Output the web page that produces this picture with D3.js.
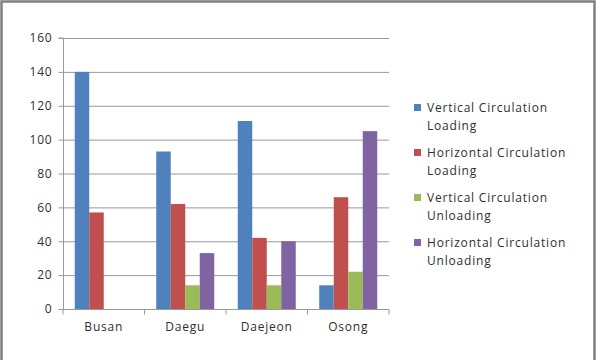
<!DOCTYPE html>
<html><head><meta charset="utf-8">
<script src="https://cdn.jsdelivr.net/npm/d3@7"></script>
<style>body{margin:0;background:#fff;} svg{display:block;}</style>
</head><body>
<svg id="c" width="607" height="360"></svg>
<script>
const categories = ["Busan", "Daegu", "Daejeon", "Osong"];
const seriesNames = [
  ["Vertical Circulation", "Loading"],
  ["Horizontal Circulation", "Loading"],
  ["Vertical Circulation", "Unloading"],
  ["Horizontal Circulation", "Unloading"]
];
const vertLoading = [140, 93, 111, 14];
const horizLoading = [57, 62, 42, 66];
const vertUnloading = [0, 14, 14, 22];
const horizUnloading = [0, 33, 40, 105];
const yTicks = [0, 20, 40, 60, 80, 100, 120, 140, 160];
const colors = ["#4F81BD", "#C0504D", "#9BBB59", "#8064A2"];

const series = [vertLoading, horizLoading, vertUnloading, horizUnloading];
const svg = d3.select("#c");
const font = "'Open Sans', 'Liberation Sans', sans-serif";
const fs = 12, ls = 0.8, tc = "#2f2f2f";

// chart border
svg.append("path").attr("d", "M1.5,360 L1.5,1.5 L594.5,1.5 L594.5,360")
  .attr("fill", "none").attr("stroke", "#808080").attr("stroke-width", 2.5);

const x0 = 63, x1 = 389, yTop = 38, yBot = 309;
const x = d3.scaleBand().domain(categories).range([x0, x1]).paddingInner(0).paddingOuter(0);
const xs = d3.scaleBand().domain(d3.range(4)).range([0, x.bandwidth()]).paddingOuter(0.81).paddingInner(0);
const y = d3.scaleLinear().domain([0, 160]).range([yBot, yTop]);

// gridlines
svg.append("g").selectAll("line").data(yTicks.filter(d => d > 0)).join("line")
  .attr("x1", x0).attr("x2", x1).attr("y1", d => y(d) + 0.5).attr("y2", d => y(d) + 0.5)
  .attr("stroke", "#999").attr("stroke-width", 1);

// y axis
const ya = svg.append("g").attr("transform", `translate(${x0 + 0.5},0)`)
  .call(d3.axisLeft(y).tickValues(yTicks).tickSize(5).tickPadding(6));
ya.select(".domain").attr("stroke", "#999").attr("d", `M-5,${yTop} H0 V${yBot}`);
ya.selectAll(".tick line").attr("stroke", "#999");
ya.selectAll("text").attr("font-family", font).attr("font-size", fs).attr("letter-spacing", ls).attr("fill", tc);

// bars
categories.forEach((c, ci) => {
  series.forEach((s, si) => {
    const v = s[ci];
    if (v <= 0) return;
    svg.append("rect")
      .attr("x", x(c) + xs(si)).attr("width", xs.bandwidth())
      .attr("y", y(v)).attr("height", yBot - y(v))
      .attr("fill", colors[si]);
  });
});

// x axis
const xa = svg.append("g").attr("transform", `translate(0,${yBot + 0.5})`)
  .call(d3.axisBottom(x).tickSize(0).tickPadding(13));
xa.select(".domain").attr("stroke", "#999").attr("d", `M${x0},0 H${x1}`);
xa.selectAll("text").attr("font-family", font).attr("font-size", fs).attr("letter-spacing", ls).attr("fill", tc);
xa.selectAll(".sep").data(categories.concat(["end"])).join("line").attr("class", "sep")
  .attr("x1", (d, i) => x0 + i * x.bandwidth()).attr("x2", (d, i) => x0 + i * x.bandwidth())
  .attr("y1", 0).attr("y2", 5).attr("stroke", "#999");

// legend
const lg = svg.append("g");
seriesNames.forEach((n, i) => {
  const gy = 108 + i * 45;
  lg.append("rect").attr("x", 414).attr("y", gy - 4).attr("width", 7).attr("height", 7).attr("fill", colors[i]);
  n.forEach((t, j) => {
    lg.append("text").attr("x", 427).attr("y", gy + j * 18).attr("dy", "0.35em")
      .attr("font-family", font).attr("font-size", fs).attr("letter-spacing", ls).attr("fill", tc).text(t);
  });
});
</script>
</body></html>
